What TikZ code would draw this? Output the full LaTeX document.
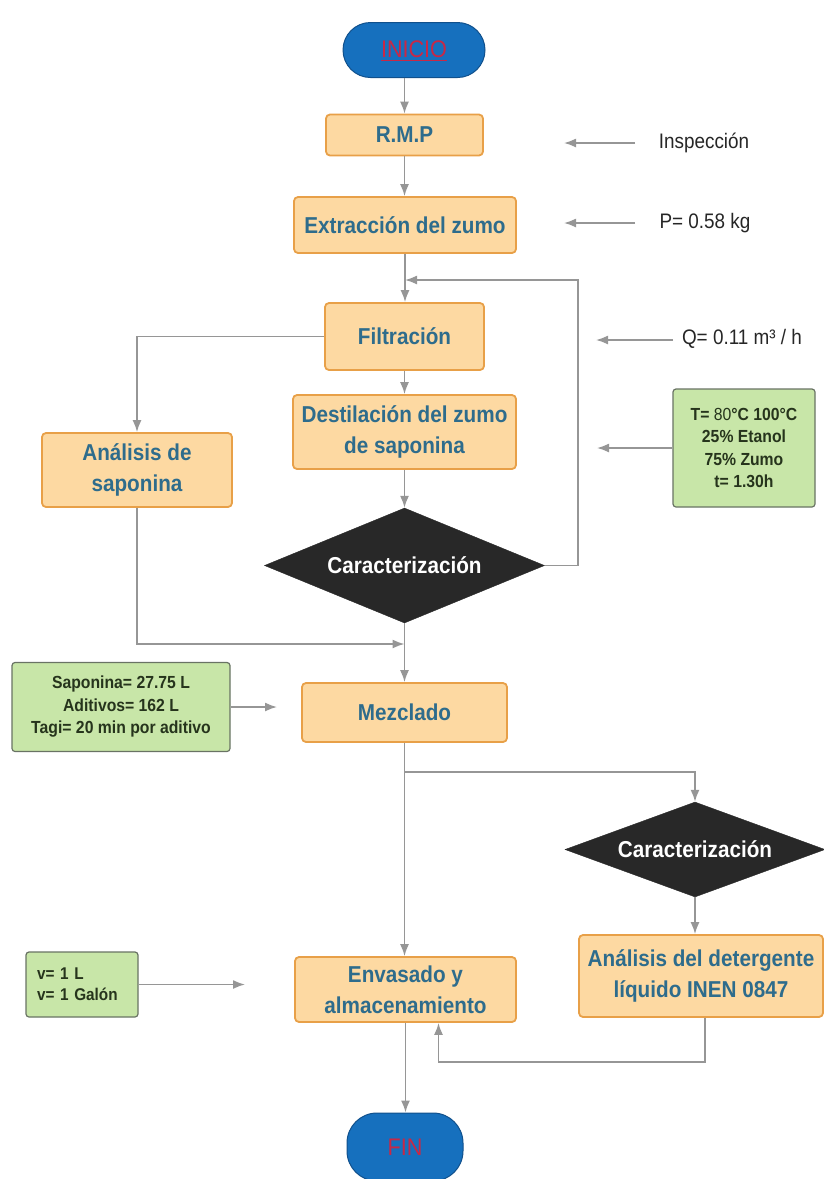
\documentclass[tikz,border=0pt]{standalone}
\usepackage{fontspec}
\setmainfont{Liberation Sans}
\newfontfamily\cf[FakeStretch=0.9]{Liberation Sans}
\usetikzlibrary{arrows.meta,shapes.geometric}
\definecolor{boxfill}{RGB}{253,217,162}
\definecolor{boxdraw}{RGB}{232,160,72}
\definecolor{bluetxt}{RGB}{46,108,140}
\definecolor{greenfill}{RGB}{200,230,168}
\definecolor{greendraw}{RGB}{105,115,100}
\definecolor{greentxt}{RGB}{38,52,28}
\definecolor{termfill}{RGB}{22,112,190}
\definecolor{termdraw}{RGB}{16,80,140}
\definecolor{termtxt}{RGB}{200,40,70}
\definecolor{arrowgray}{RGB}{150,150,150}
\definecolor{diafill}{RGB}{40,40,40}
\tikzset{
 proc/.style={draw=boxdraw, fill=boxfill, line width=1.8pt, rounded corners=4pt, text=bluetxt, font=\cf\bfseries\fontsize{23}{31}\selectfont, align=center, inner sep=0pt},
 note/.style={draw=greendraw, fill=greenfill, line width=1.2pt, rounded corners=3pt, text=greentxt, font=\cf\bfseries\fontsize{17.5}{22.5}\selectfont, align=center, inner sep=0pt},
 term/.style={draw=termdraw, fill=termfill, line width=1pt, text=termtxt, font=\cf\fontsize{24}{28}\selectfont, inner sep=0pt},
 termlbl/.style={text=termtxt, font=\cf\fontsize{24}{28}\selectfont, inner sep=0pt},
 dec/.style={diamond, fill=diafill, draw=diafill, text=white, font=\cf\bfseries\fontsize{23}{28}\selectfont, inner sep=0pt},
 lbl/.style={text=black!85, font=\cf\fontsize{21}{24}\selectfont, inner sep=0pt},
 arr/.style={draw=arrowgray, line width=1.6pt, -{Latex[length=12pt,width=9pt]}},
}
\begin{document}
\begin{tikzpicture}[x=1pt,y=-1pt]
\useasboundingbox (0,0) rectangle (824,1179);
% terminals and process boxes
\node[term, minimum width=142pt, minimum height=55pt, rounded corners=27.5pt] (start) at (414,50) {};
\node[termlbl] (startlbl) at (414,49) {INICIO};
\draw[termtxt, line width=1.3pt] ([yshift=-3pt]startlbl.south west) -- ([yshift=-3pt]startlbl.south east);
\node[proc, minimum width=157pt, minimum height=41pt] (rmp) at (404.5,135) {R.M.P};
\node[proc, minimum width=222pt, minimum height=56pt] (ext) at (405,225) {Extracción del zumo};
\node[proc, minimum width=159pt, minimum height=67pt] (fil) at (404.5,336.5) {Filtración};
\node[proc, minimum width=223pt, minimum height=74pt] (des) at (404.5,432) {Destilación del zumo\\de saponina};
\node[proc, minimum width=190pt, minimum height=74pt] (ana) at (137,470) {Análisis de\\saponina};
\node[dec, aspect=2.6, minimum width=280pt, minimum height=115pt] (car1) at (404.5,565.5) {Caracterización};
\node[proc, minimum width=205pt, minimum height=59pt] (mez) at (404.5,712.5) {Mezclado};
\node[dec, aspect=2.9, minimum width=260pt, minimum height=95pt] (car2) at (695,849.5) {Caracterización};
\node[proc, minimum width=244pt, minimum height=82pt] (det) at (701,976) {Análisis del detergente\\líquido INEN 0847};
\node[proc, minimum width=221pt, minimum height=65pt] (env) at (405.5,989.5) {Envasado y\\almacenamiento};
\node[term, minimum width=116pt, minimum height=68pt, rounded corners=30pt] (fin) at (405,1147) {FIN};
% side labels
\node[lbl] (insp) at (704,143) {Inspección};
\node[lbl] (peso) at (705,223) {P= 0.58 kg};
\node[lbl] (caud) at (742,339) {Q= 0.11 m³ / h};
\node[note, minimum width=142pt, minimum height=118pt] (cond) at (744,448) {T= {\mdseries 80}°C 100°C\\25\% Etanol\\75\% Zumo\\t= 1.30h};
\node[note, minimum width=218pt, minimum height=89pt] (sap) at (121,707) {Saponina= 27.75 L\\Aditivos= 162 L\\Tagi= 20 min por aditivo};
\node[note, text width=90pt, inner xsep=11pt, minimum height=65pt, align=left, font=\cf\bfseries\fontsize{17}{21}\selectfont] (vol) at (82,984.5) {v= 1 L\\v= 1 Galón};
% free arrow ends
\coordinate (inspA) at (635,143); \coordinate (inspB) at (564,143);
\coordinate (pesoA) at (635,223); \coordinate (pesoB) at (564,223);
\coordinate (caudA) at (673,340); \coordinate (caudB) at (596,340);
\coordinate (condB) at (597,448);
\coordinate (sapB) at (277,707);
\coordinate (volB) at (245,984.5);
\coordinate (loopR) at (578,280);
\coordinate (loopin) at (405,280);
\coordinate (merge) at (404.5,644);
\coordinate (brk) at (404.5,772);
\coordinate (fbR) at (705,1062);
% connectors
\draw[arr] (rmp.north |- start.south) -- (rmp.north);
\draw[arr] (rmp.south) -- (rmp.south |- ext.north);
\draw[arr] (ext.south) -- (ext.south |- fil.north);
\draw[arr] (fil.south) -- (des.north);
\draw[arr] (des.south) -- (car1.north);
\draw[arr] (car1.east) -| (loopR) -- (loopin);
\draw[arr] (fil.west) -| (ana.north);
\draw[arr] (ana.south) |- (merge);
\draw[arr] (car1.south) -- (car1.south |- mez.north);
\draw[arr] (mez.south) -- (brk) -| (car2.north);
\draw[arr] (mez.south) -- (mez.south |- env.north);
\draw[arr] (car2.south) -- (car2.south |- det.north);
\draw[arr] (det.south -| fbR) -- (fbR) -| ([xshift=33pt]env.south);
\draw[arr] (env.south) -- (env.south |- fin.north);
\draw[arr] (inspA) -- (inspB);
\draw[arr] (pesoA) -- (pesoB);
\draw[arr] (caudA) -- (caudB);
\draw[arr] (cond.west) -- (condB);
\draw[arr] (sap.east) -- (sapB);
\draw[arr] (vol.east) -- (volB);
\end{tikzpicture}
\end{document}
